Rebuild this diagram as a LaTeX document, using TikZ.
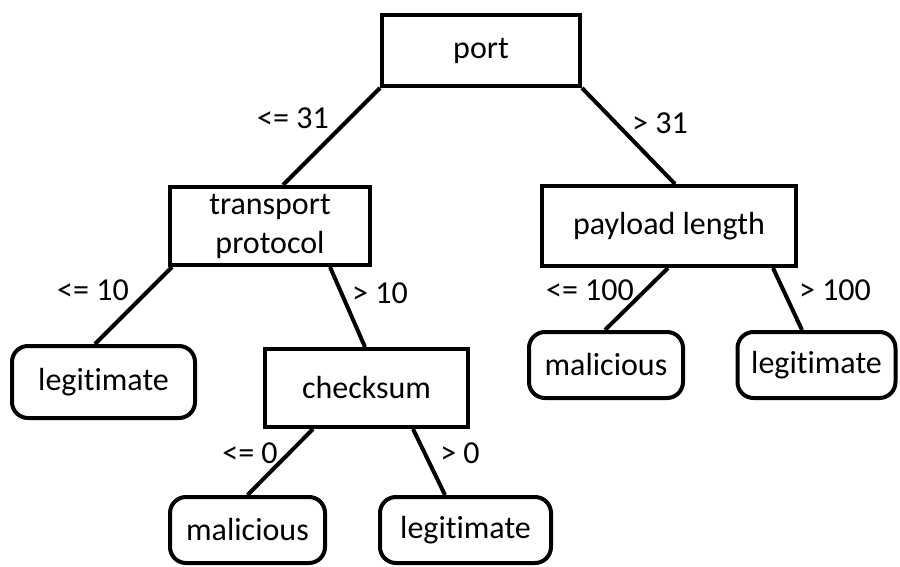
\documentclass[tikz,border=0pt]{standalone}
\usepackage{fontspec}
\setmainfont{Carlito}[Ligatures={NoCommon,NoRare}]
\usetikzlibrary{calc}

\begin{document}
\begin{tikzpicture}[x=0.5pt,y=-0.5pt,line width=2pt,
    split/.style={draw,rectangle,align=center,inner sep=0pt},
    leaf/.style={draw,rectangle,rounded corners=8pt,inner sep=0pt},
    cut/.style={inner sep=0pt},
    every node/.style={font=\fontsize{16}{19.5}\selectfont}]
    \useasboundingbox (0,0) rectangle (900,567);

    % tests
    \node[split,minimum width=99pt,minimum height=35.5pt] (port) at (481,50.5) {port};
    \node[split,minimum width=100pt,minimum height=39pt] (trans) at (270,226) {transport\\protocol};
    \node[split,minimum width=127pt,minimum height=40pt] (pay) at (669,226) {payload length};
    \node[split,minimum width=101.5pt,minimum height=39pt] (chk) at (366.5,388) {checksum};

    % leaves
    \node[leaf,minimum width=91.5pt,minimum height=36pt] (legL) at (103.5,382) {legitimate};
    \node[leaf,minimum width=77pt,minimum height=33pt] (malR) at (606,365) {malicious};
    \node[leaf,minimum width=79pt,minimum height=33pt] (legR) at (816.5,365) {legitimate};
    \node[leaf,minimum width=77.5pt,minimum height=33pt] (malB) at (247.5,530) {malicious};
    \node[leaf,minimum width=85.5pt,minimum height=33pt] (legB) at (465.5,530) {legitimate};

    % branches
    \draw (port.south west)--($(trans.north)+(13,0)$)
          (port.south east)--($(pay.north)+(6,0)$)
          ($(trans.south)+(-98,0)$)--($(legL.north)+(-8.5,0)$)
          ($(trans.south)+(60,0)$)--($(chk.north)+(-1.5,0)$)
          ($(pay.south)+(-1,0)$)--($(malR.north)+(-1,0)$)
          ($(pay.south)+(104,0)$)--($(legR.north)+(-14.5,0)$)
          ($(chk.south)+(-53.5,0)$)--(malB.north)
          ($(chk.south)+(46.5,0)$)--($(legB.north)+(-20.5,0)$);

    % conditions
    \node[cut] (c1) at (293,118) {<= 31};
    \node[cut] (c2) at (660,123) {> 31};
    \node[cut] (c3) at (93,290) {<= 10};
    \node[cut] (c4) at (380,293) {> 10};
    \node[cut] (c5) at (590,290) {<= 100};
    \node[cut] (c6) at (835,290) {> 100};
    \node[cut] (c7) at (250,453) {<= 0};
    \node[cut] (c8) at (460,453) {> 0};
\end{tikzpicture}
\end{document}
